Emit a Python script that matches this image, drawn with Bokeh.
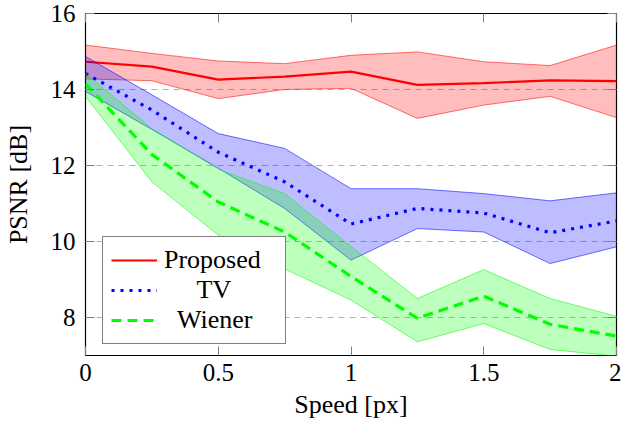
from bokeh.plotting import figure
from bokeh.models import (Range1d, FixedTicker, LinearAxis, Legend, LegendItem,
                          CustomJSTickFormatter)
from bokeh.embed import file_html
from bokeh.resources import INLINE

speed = [0, 0.25, 0.5, 0.75, 1.0, 1.25, 1.5, 1.75, 2.0]

proposed_mean = [14.73, 14.60, 14.26, 14.34, 14.47, 14.12, 14.17, 14.24, 14.22]
proposed_upper = [15.17, 14.95, 14.75, 14.68, 14.90, 14.99, 14.73, 14.63, 15.17]
proposed_lower = [14.28, 14.23, 13.76, 14.00, 14.03, 13.24, 13.59, 13.82, 13.26]

tv_mean = [14.42, 13.46, 12.35, 11.57, 10.46, 10.87, 10.75, 10.23, 10.54]
tv_upper = [14.87, 13.86, 12.84, 12.45, 11.39, 11.39, 11.26, 11.07, 11.28]
tv_lower = [13.95, 12.95, 11.93, 10.87, 9.51, 10.34, 10.25, 9.42, 9.86]

wiener_mean = [14.15, 12.29, 11.04, 10.25, 9.08, 7.98, 8.56, 7.82, 7.51]
wiener_upper = [14.42, 12.97, 11.90, 11.26, 9.87, 8.50, 9.26, 8.50, 8.03]
wiener_lower = [13.82, 11.57, 10.17, 9.28, 8.46, 7.36, 7.84, 7.16, 6.98]

x_ticks = [0, 0.5, 1, 1.5, 2]
x_tick_labels = ["0", "0.5", "1", "1.5", "2"]
y_ticks = [8, 10, 12, 14, 16]
y_tick_labels = ["8", "10", "12", "14", "16"]

legend_labels = ["Proposed", "\u00a0\u00a0\u00a0\u00a0\u00a0TV", "\u00a0\u00a0Wiener"]

FONT = "serif"

p = figure(width=621, height=423, x_range=Range1d(0, 2), y_range=Range1d(7, 16),
           output_backend="svg", toolbar_location=None,
           min_border_left=84, min_border_right=5, min_border_top=13,
           min_border_bottom=68, background_fill_color="white")
p.outline_line_color = "black"
p.outline_line_width = 1.2

# grid
p.xgrid.grid_line_color = None
p.ygrid.ticker = FixedTicker(ticks=y_ticks)
p.ygrid.grid_line_color = "#b0b0b0"
p.ygrid.grid_line_dash = "6 5"
p.ygrid.grid_line_width = 1

# main axes
p.xaxis.ticker = FixedTicker(ticks=x_ticks)
p.xaxis.major_label_overrides = {t: l for t, l in zip(x_ticks, x_tick_labels)}
p.yaxis.ticker = FixedTicker(ticks=y_ticks)
p.yaxis.major_label_overrides = {t: l for t, l in zip(y_ticks, y_tick_labels)}
p.xaxis.axis_label = "Speed [px]"
p.yaxis.axis_label = "PSNR [dB]"
for ax in [p.xaxis[0], p.yaxis[0]]:
    ax.major_tick_in = 9
    ax.major_tick_out = 0
    ax.minor_tick_line_color = None
    ax.axis_line_color = None
    ax.major_tick_line_color = "#808080"
    ax.major_label_text_font = FONT
    ax.major_label_text_font_size = "25px"
    ax.major_label_text_font_style = "normal"
    ax.major_label_text_color = "black"
    ax.axis_label_text_font = FONT
    ax.axis_label_text_font_size = "26px"
    ax.axis_label_text_font_style = "normal"
    ax.axis_label_text_color = "black"
p.xaxis.major_label_standoff = 8
p.xaxis.axis_label_standoff = 6
p.yaxis.major_label_standoff = 10
p.yaxis.axis_label_standoff = 15

# top/right tick-only axes
for loc, ticks in [("above", x_ticks), ("right", y_ticks)]:
    ax = LinearAxis(ticker=FixedTicker(ticks=ticks),
                    formatter=CustomJSTickFormatter(code="return ''"),
                    major_tick_in=9, major_tick_out=0,
                    minor_tick_line_color=None, axis_line_color=None,
                    major_tick_line_color="#808080", major_label_standoff=0)
    p.add_layout(ax, loc)

colors = ["#ff0000", "#0000ff", "#00ff00"]
means = [proposed_mean, tv_mean, wiener_mean]
uppers = [proposed_upper, tv_upper, wiener_upper]
lowers = [proposed_lower, tv_lower, wiener_lower]
dashes = ["solid", "3 6", "10 6"]
widths = [2.2, 3.2, 3.2]

items = []
for c, m, u, lo, d, w, lab in zip(colors, means, uppers, lowers, dashes, widths, legend_labels):
    p.varea(x=speed, y1=lo, y2=u, fill_color=c, fill_alpha=0.26)
    p.line(speed, u, line_color=c, line_alpha=0.55, line_width=1)
    p.line(speed, lo, line_color=c, line_alpha=0.55, line_width=1)
    r = p.line(speed, m, line_color=c, line_width=w, line_dash=d)
    items.append(LegendItem(label=lab, renderers=[r]))

legend = Legend(items=items, location=(17, 11), orientation="vertical",
                border_line_color="black", border_line_width=1.2,
                background_fill_color="white", background_fill_alpha=1,
                label_text_font=FONT, label_text_font_size="26px",
                label_text_font_style="normal",
                label_text_color="black",
                glyph_width=46, glyph_height=30, label_height=30,
                label_width=113, label_standoff=7, spacing=0, padding=8,
                margin=0)
p.add_layout(legend, "center")

open("out.html", "w").write(file_html(p, INLINE))
